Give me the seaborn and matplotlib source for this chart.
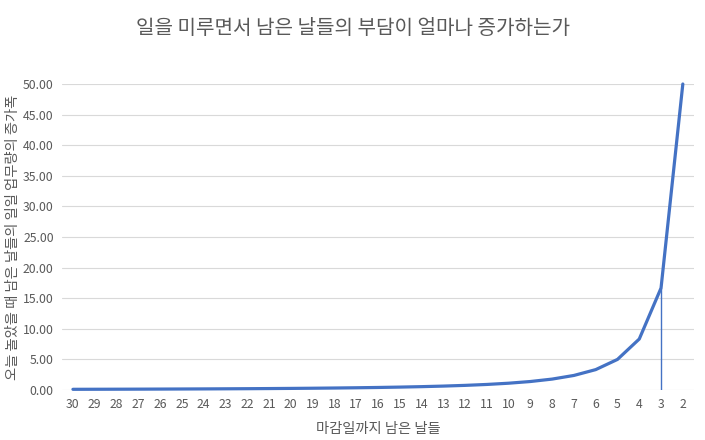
import numpy as np
import pandas as pd
import seaborn as sns
import matplotlib.pyplot as plt

# 남은 날짜 (x축 카테고리)
days_left = [30, 29, 28, 27, 26, 25, 24, 23, 22, 21, 20, 19, 18, 17, 16,
             15, 14, 13, 12, 11, 10, 9, 8, 7, 6, 5, 4, 3, 2]
# 하루 놀았을 때 일일 업무량 증가폭
increase = [0.115, 0.123, 0.132, 0.142, 0.154, 0.167, 0.181, 0.198, 0.216,
            0.238, 0.263, 0.292, 0.327, 0.368, 0.417, 0.476, 0.549, 0.641,
            0.758, 0.909, 1.111, 1.389, 1.786, 2.381, 3.333, 5.0, 8.333,
            16.667, 50.0]
y_ticks = [0, 5, 10, 15, 20, 25, 30, 35, 40, 45, 50]
marked_day = 3

title = "일을 미루면서 남은 날들의 부담이 얼마나 증가하는가"
x_label = "마감일까지 남은 날들"
y_label = "오늘 놀았을 때 남은 날들의 일일 업무량의 증가폭"

sns.set_style("white")
plt.rcParams['font.family'] = ['Noto Sans CJK KR', 'DejaVu Sans']

df = pd.DataFrame({"day": [str(d) for d in days_left], "value": increase})

fig = plt.figure(figsize=(7.05, 4.4), dpi=100)
ax = fig.add_axes([0.088, 0.1136, 0.896, 0.6955])

line_color = "#4472C4"
text_color = "#595959"

sns.lineplot(data=df, x="day", y="value", sort=False, color=line_color,
             linewidth=2.3, ax=ax, clip_on=False)

# 3일 남은 지점의 수직선
idx = days_left.index(marked_day)
ax.vlines(idx, 0, increase[idx], color=line_color, linewidth=1.0)

ax.set_ylim(0, 50)
ax.set_xlim(-0.5, len(days_left) - 0.5)
ax.set_yticks(y_ticks)
ax.set_yticklabels([f"{v:.2f}" for v in y_ticks], fontsize=8.8, color=text_color)
ax.set_xticks(range(len(days_left)))
ax.set_xticklabels([str(d) for d in days_left], fontsize=8.8, color=text_color)
ax.tick_params(axis='both', length=0, pad=6)

ax.yaxis.grid(True, color="#D9D9D9", linewidth=0.8)
ax.set_axisbelow(True)
for s in ax.spines.values():
    s.set_visible(False)

ax.set_xlabel(x_label, fontsize=10.3, color=text_color, labelpad=8)
ax.set_ylabel(y_label, fontsize=10.3, color=text_color)
ax.yaxis.set_label_coords(-0.066, 0.5)
fig.suptitle(title, fontsize=14.5, color=text_color, y=0.96)

plt.savefig("out.png", dpi=100)
plt.close()
